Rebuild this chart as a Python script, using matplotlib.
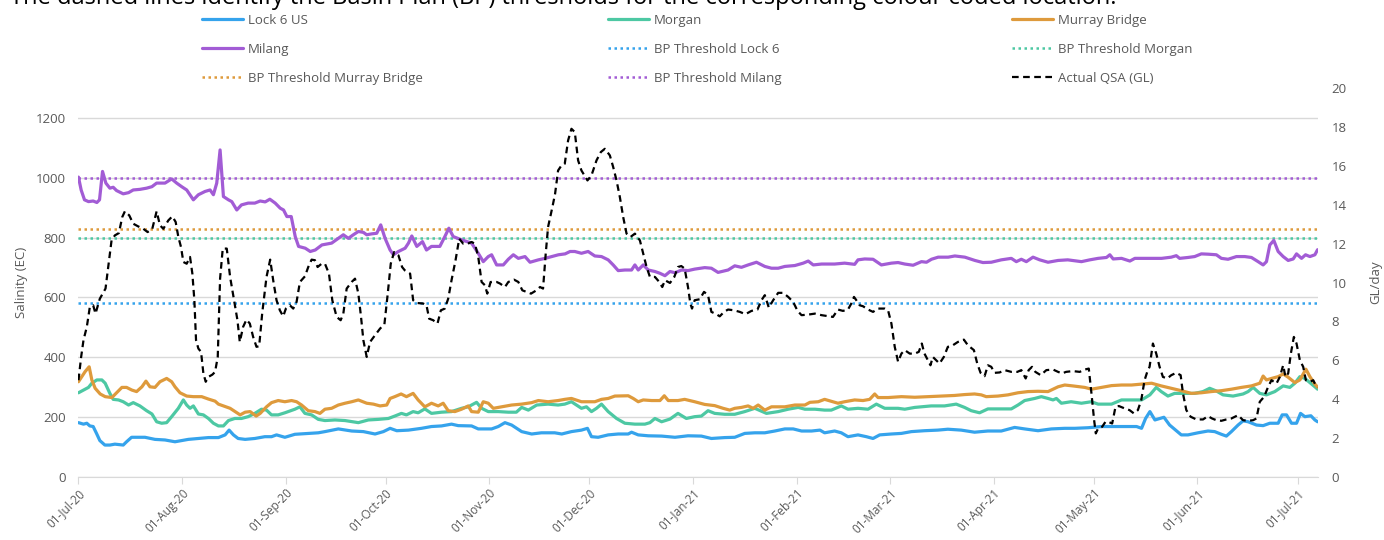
import numpy as np
import matplotlib
matplotlib.use('Agg')
import matplotlib.pyplot as plt
import matplotlib.dates as mdates

plt.rcParams['font.family'] = ['Open Sans', 'DejaVu Sans']

# day offsets from 01-Jul-2020 and values
start = mdates.datestr2num('2020-07-01')

lock6_day = [0, 1.5, 2.5, 3.4, 4.4, 5.4, 6.4, 7.9, 9.4, 10.9, 13.4, 14.4, 15.9, 17.9, 19.9, 22.9, 25.9,
             28.9, 30.9, 32.9, 35.9, 38.9, 41.9, 43.9, 45.1, 46.4, 47.8, 49.9, 52.8, 55.8, 57.8, 59.3,
             61.8, 64.8, 68.8, 71.8, 73.8, 77.8, 81.8, 85.3, 88.8, 91.3, 93.3, 95.3, 98.8, 102.7,
             105.7, 108.7, 111.7, 113.7, 117.7, 119.7, 123.7, 125.7, 127.7, 129.7, 132.7, 135.7,
             138.6, 142.6, 144.7, 147.6, 150.6, 152.4, 153.6, 155.6, 158.6, 161.6, 164.6, 165.6,
             167.6, 170.6, 174.6, 178.6, 182.5, 186.5, 189.5, 193.5, 196.5, 199.5, 202.5, 205.5,
             208.5, 211.5, 214, 216.5, 219.5, 222, 223.4, 226.4, 228.4, 230.4, 233.4, 235.9, 237.9,
             239.9, 243.4, 246.4, 249.4, 253.3, 257.3, 260.3, 264.3, 268.3, 272.3, 276.3, 280.3,
             283.3, 287.3, 291.3, 295.3, 298.3, 302.3, 306.3, 310.3, 314.3, 316.8, 318.3, 319.5,
             320.8, 322.3, 323.8, 325, 326.7, 328.2, 330.2, 332.2, 335.2, 338.2, 340.2, 342.2,
             343.7, 345.2, 347.2, 348.7, 350.2, 352.7, 354.7, 356.7, 359.2, 360.4, 361.7, 363.2,
             364.7, 365.9, 367.2, 369, 370.2, 371]
lock6_ec = [181, 176, 179, 170, 168, 145, 121, 106, 106, 109, 106, 117, 132, 132, 132, 125, 123,
            117, 121, 125, 128, 131, 131, 140, 156, 140, 128, 125, 128, 134, 134, 140,
            132, 142, 145, 147, 151, 160, 153, 151, 143, 151, 162, 154, 156, 162,
            168, 170, 176, 171, 170, 160, 160, 168, 181, 173, 151, 143,
            147, 147, 143, 151, 156, 162, 134, 132, 140, 143, 143, 149,
            140, 137, 136, 132, 137, 136, 128, 131, 132, 145, 147, 147,
            153, 160, 160, 153, 153, 156, 147, 153, 147, 134, 140, 134, 128,
            140, 143, 145, 151, 154, 156, 159, 156, 149, 153, 153, 165,
            160, 154, 160, 162, 162, 164, 168, 168, 168, 168, 162, 195,
            218, 190, 195, 199, 173, 159, 140, 140, 147, 153, 151, 142,
            136, 151, 173, 187, 184, 173, 171, 179, 179, 207, 207, 179,
            179, 212, 201, 204, 190, 184]

morgan_day = [0, 1.5, 3, 4, 5.5, 7, 8, 9.4, 10.4, 12, 13.4, 15, 16.4, 18.4, 20.4, 22, 23.4, 24.9,
              26.4, 27.9, 29.9, 31.4, 32.4, 33.4, 34.4, 35.9, 37.4, 38.9, 40.4, 41.9, 43.4, 44.9,
              46.8, 48.8, 50.8, 52.8, 54.8, 56.3, 57.8, 59.8, 61.8, 64.8, 66.3, 67.8, 69.8, 71.8,
              73.8, 76.8, 79.8, 83.8, 86.8, 89.8, 92.8, 94.7, 96.7, 98.2, 100.2, 101.7, 103.7,
              105.7, 108.7, 111.7, 114.7, 116.7, 119.2, 120.7, 122.7, 125.7, 128.7, 131.1, 132.7,
              134.7, 137.2, 140.6, 143.6, 145.6, 147.6, 150.6, 152.1, 153.6, 155.1, 156.6, 158.6,
              161.1, 163.6, 166.6, 169.6, 171.1, 172.6, 174.6, 177.1, 179.5, 182, 184.5, 186.5,
              188.5, 190.5, 193.5, 196.5, 199.5, 202.5, 206, 209.5, 212.5, 215.5, 217.5, 220.5,
              223.4, 225.4, 228.4, 230.4, 233.4, 236.4, 238.9, 241.4, 245.4, 247.4, 250.4, 255.3,
              259.3, 262.8, 265.3, 267.3, 269.8, 272.3, 275.3, 279.3, 281.3, 283.3, 286.3, 288.3,
              290.3, 291.8, 292.8, 294.3, 297.2, 300.3, 303.3, 305.3, 309.3, 312.3, 316.3, 318.3,
              320.8, 322.7, 324.2, 326.2, 328.2, 331.2, 334.2, 336.7, 338.7, 340.7, 342.7, 345.7,
              348.7, 350.2, 351.7, 353.7, 355.7, 358.2, 360.7, 362.7, 364.2, 365.7, 367.2, 368.7,
              370.2, 371]
morgan_ec = [281, 290, 299, 313, 324, 324, 313, 279, 259, 257, 251, 240, 248, 237, 221, 210, 184, 179,
             181, 201, 229, 257, 240, 229, 237, 210, 207, 195, 179, 170, 170, 188,
             195, 195, 201, 212, 226, 223, 207, 207, 214, 226, 234, 212, 207, 192,
             188, 190, 188, 181, 190, 192, 195, 203, 212, 207, 218, 214, 227,
             212, 216, 218, 229, 234, 249, 229, 218, 218, 216, 216, 232,
             223, 240, 243, 240, 243, 251, 229, 234, 218, 229, 243, 218,
             195, 179, 176, 176, 181, 195, 184, 193, 212, 195, 201, 203,
             221, 212, 209, 209, 218, 229, 212, 218, 226, 232, 226, 226,
             223, 223, 237, 226, 229, 226, 243, 229, 229, 226, 232, 237,
             237, 243, 232, 221, 214, 227, 227, 227, 240, 255, 262, 268,
             262, 257, 262, 246, 251, 246, 251, 243, 243, 257, 257, 257,
             274, 299, 285, 270, 279, 279, 279, 285, 296, 287, 274, 270,
             277, 285, 299, 279, 274, 285, 304, 299, 313, 335, 329, 315,
             301, 293]

murray_day = [0, 1, 2, 3.2, 4, 5, 6.5, 8, 10, 11.4, 13, 14.4, 16, 17.4, 19, 20.2, 21.4, 22.9, 24.4,
              26.4, 27.9, 28.9, 30.4, 32.4, 34.4, 36.9, 38.9, 40.9, 41.9, 43.4, 45.4, 46.9, 48.4,
              49.9, 51.4, 53.2, 54.4, 56.3, 57.8, 59.8, 61.8, 63.8, 65.3, 66.8, 68.8, 70.8, 72.3,
              73.8, 75.8, 77.8, 79.8, 81.8, 83.8, 86.3, 88.3, 90.3, 92.3, 93.3, 94.7, 96.6, 98.2,
              100.2, 101.7, 103.7, 105.7, 107.7, 109.2, 110.7, 112.7, 114.7, 116.7, 117.7, 119.7,
              121.2, 122.7, 124.2, 126.7, 129.7, 132.7, 135.7, 137.7, 140.6, 143.6, 145.6, 147.6,
              150.6, 154.6, 156.6, 158.6, 160.6, 164.6, 166.1, 167.6, 169.1, 171.6, 174.1, 175.4,
              176.6, 179.5, 181.5, 184.5, 187.5, 190.5, 193, 195, 196.5, 198.5, 200.5, 202, 203.5,
              205.5, 207.5, 211.5, 214.5, 217.5, 219, 221.5, 223.4, 225.9, 227.4, 229.4, 232.4,
              234.9, 236.9, 238.4, 239.4, 242.4, 246.4, 250.4, 254.3, 258.3, 262.3, 265.3, 268.3,
              270.3, 271.8, 275.3, 278.3, 281.3, 284.3, 287.3, 290.3, 293.3, 295.3, 297.7, 301.3,
              303.3, 306.3, 309.3, 312.3, 315.3, 318.3, 321.3, 324.2, 327.2, 330.2, 333.2, 336.2,
              339.2, 342.2, 345.2, 348.2, 351.2, 353.7, 354.7, 355.7, 357.2, 359.2, 360.7, 362.2,
              364.2, 365.7, 367.5, 368.7, 370.2, 371]
murray_ec = [318, 335, 352, 368, 324, 296, 277, 268, 265, 281, 299, 299, 290, 285, 301, 320, 301, 299, 318,
             329, 318, 301, 281, 270, 268, 268, 260, 253, 243, 237, 229, 218, 207,
             216, 218, 203, 212, 234, 248, 255, 251, 255, 251, 240, 221, 218, 212,
             226, 229, 240, 246, 251, 257, 246, 243, 237, 240, 262, 268, 277, 268,
             279, 257, 234, 246, 237, 246, 221, 218, 226, 237, 218, 216,
             251, 246, 229, 234, 240, 243, 248, 255, 251, 255, 259, 262,
             251, 251, 259, 262, 270, 271, 262, 251, 257, 255, 255, 271,
             255, 255, 259, 251, 242, 238, 229, 223, 229, 232, 237, 229, 240,
             223, 234, 234, 240, 240, 249, 251, 259, 251, 246, 251, 257,
             255, 259, 277, 265, 265, 268, 266, 268, 270, 272, 275, 277,
             274, 268, 270, 274, 281, 285, 286, 285, 301, 307, 304, 299,
             293, 299, 305, 307, 307, 310, 313, 304, 296, 288, 279, 281,
             285, 288, 293, 299, 304, 313, 337, 324, 329, 335, 344, 333,
             315, 324, 360, 335, 310, 300]

milang_day = [0, 0.8, 1.8, 3, 4.4, 5.5, 6.3, 7.2, 8.2, 9.4, 10.4, 11.4, 13.4, 15, 16.4, 18.4, 20.4, 22,
              23.4, 25.9, 27.9, 29.4, 30.9, 32.4, 34.4, 35.9, 37.9, 39.4, 40.4, 41.4, 42.4, 43.4, 44.9,
              45.9, 47.4, 48.8, 50.8, 52.8, 54.4, 55.9, 57.3, 58.9, 60.4, 61.4, 62.4, 63.7, 64.9, 65.9,
              67.9, 69.4, 70.9, 72.9, 75.8, 77.8, 79.3, 80.8, 82.3, 83.8, 85.3, 86.3, 87.8, 89.3, 90.5,
              91.8, 93.3, 94.3, 95.8, 97.8, 98.8, 99.8, 101.3, 103, 104.2, 105.7, 108.2, 109.7, 110.9,
              112.2, 114.7, 117.7, 119.7, 121.2, 122.7, 123.7, 125.2, 127.2, 128.7, 130.2, 131.7, 133.7,
              135.2, 137.7, 139.7, 141.7, 143.7, 145.7, 147.2, 148.6, 150.6, 152.6, 154.6, 156.6, 158.6,
              160.1, 161.6, 163.6, 165.6, 166.6, 167.6, 169.1, 170.6, 172.6, 174.1, 175.6, 177.1, 178.6,
              180.6, 182.5, 184.5, 187.5, 189.5, 191.5, 194.5, 196.5, 198.5, 200.5, 203, 205.5, 207.5,
              209.5, 211.5, 214.5, 217, 218.5, 220, 222.5, 226.4, 229.4, 232.4, 233.4, 235.4, 237.9,
              240.4, 243.4, 245.4, 247.4, 249.9, 252.4, 253.9, 255.4, 257.4, 260.4, 262.4, 265.4, 268.4,
              270.8, 273.3, 276.3, 279.3, 280.8, 282.3, 283.8, 285.8, 287.8, 290.3, 293.3, 296.2, 300.3,
              302.8, 305.3, 307.8, 308.8, 309.8, 312.3, 314.8, 316.3, 320.3, 324.3, 327.2, 328.7, 329.7,
              332.2, 334.2, 336.2, 338.2, 340.7, 342.2, 344.2, 346.7, 349.2, 351.2, 353.2, 354.7, 355.7,
              356.7, 357.9, 359.2, 360.7, 362.2, 363.7, 364.7, 366.2, 367.4, 368.7, 370.2, 371]
milang_ec = [1003, 960, 927, 921, 923, 918, 927, 1022, 983, 966, 969, 958, 947, 951, 960, 962, 966, 971,
             983, 983, 997, 983, 971, 960, 927, 944, 955, 960, 944, 983, 1094, 938, 927,
             921, 893, 910, 916, 916, 923, 920, 929, 916, 899, 893, 871, 871, 804, 771,
             765, 754, 759, 776, 782, 798, 810, 798, 810, 821, 818, 810, 813, 815, 843,
             798, 759, 743, 754, 765, 782, 806, 771, 787, 759, 771, 771, 804, 832,
             804, 793, 782, 748, 720, 737, 743, 709, 709, 728, 743, 731, 737,
             718, 726, 731, 737, 743, 746, 754, 754, 748, 754, 739, 737, 726,
             709, 690, 692, 692, 709, 692, 709, 692, 687, 681, 673, 687, 683,
             692, 690, 695, 700, 698, 684, 692, 706, 701, 709, 718, 704, 698,
             698, 704, 707, 715, 722, 709, 712, 712, 715, 711, 726, 729, 728,
             709, 715, 717, 712, 708, 720, 718, 728, 735, 735, 739, 735, 724,
             717, 718, 726, 731, 720, 728, 720, 735, 726, 718, 724, 726, 720,
             726, 731, 734, 743, 729, 731, 722, 731, 731, 731, 735, 740, 731,
             734, 737, 746, 745, 743, 731, 728, 737, 737, 734, 720, 709, 720,
             776, 791, 754, 737, 724, 729, 746, 731, 743, 737, 743, 760]

qsa_day = [0, 0.8, 1.5, 2.5, 3.4, 4.4, 5.1, 6.4, 8.1, 8.9, 9.9, 10.9, 12.1, 13.1, 13.9, 15.2, 16.4, 17.9,
           19.4, 20.7, 22.1, 23.4, 24.4, 25.4, 26.9, 28.1, 29.1, 29.9, 30.7, 31.4, 32.4, 33.4, 34.1,
           34.7, 35.2, 35.9, 36.7, 37.4, 38.1, 38.9, 40.1, 40.9, 41.7, 42.4, 43.2, 44.4, 45.4, 46.6,
           47.6, 48.3, 49.3, 50.3, 51.3, 52.3, 53.3, 54.1, 55, 56.3, 57.4, 58.3, 59.3, 60.3, 61.3,
           62.1, 63.3, 64.3, 65.3, 66.3, 67.8, 68.8, 69.8, 70.8, 71.6, 72.8, 73.8, 75, 76, 77.3, 78.5,
           79.3, 80.3, 81.8, 82.8, 83.8, 84.6, 85.3, 86.3, 87.3, 88.8, 90.3, 91.6, 92.6, 93.5, 94.5,
           95.8, 96.9, 97.7, 99.3, 100.2, 101.2, 103.2, 104.2, 105, 106.2, 107.5, 108.5, 109.7, 110.7,
           111.7, 112.9, 114, 115.2, 116.5, 117.7, 118.7, 119.7, 120.7, 121.7, 122.4, 123.4, 125.2,
           126.2, 127.7, 128.7, 130.4, 131.7, 132.9, 134.1, 135.5, 137.1, 138.2, 139.1, 139.9, 140.6,
           141.9, 142.7, 143.6, 144.6, 145.6, 146.6, 147.6, 148.6, 149.6, 150.6, 152.4, 153.6, 155.1,
           156.4, 157.6, 159.1, 160.1, 161.1, 162.1, 163.1, 164.1, 165.3, 166.6, 168.1, 169.1, 170.1,
           171.1, 172.6, 173.9, 174.8, 175.6, 177.1, 178.4, 179.5, 180.5, 181.5, 182.5, 183.2, 183.7,
           184.5, 186, 187.3, 188.5, 189.5, 191, 192, 193.3, 194.5, 196.3, 198, 199.7, 201.5, 203.3,
           204.5, 205.5, 206.7, 208, 209.5, 211, 212.5, 214, 215.3, 216.5, 218.5, 220.5, 222.5, 225.9,
           227.4, 228.9, 230.4, 231.4, 232.2, 232.9, 233.9, 234.9, 236.4, 237.9, 239.4, 241.4, 242.4,
           243.4, 244.4, 245.4, 246.4, 247.4, 248.9, 250.4, 251.6, 252.5, 253.3, 254.3, 255.1, 255.8,
           256.8, 257.8, 259.1, 260.3, 261.8, 263.3, 265.1, 266.3, 268.1, 269.1, 270.1, 271.3, 272.3,
           273.3, 274.3, 275.8, 277.3, 279.3, 281.1, 282.3, 283.6, 284.5, 285.5, 286.5, 288.1, 289.8,
           291.8, 293.3, 294.5, 295.7, 297.7, 299.8, 301.3, 302.5, 303.3, 304.1, 304.6, 305.3, 306.5,
           307.5, 308.3, 309.5, 310.5, 311.5, 313.2, 314.7, 316, 317.2, 318.2, 319.2, 320, 320.7,
           321.7, 322.7, 323.7, 324.7, 326, 327.2, 328.7, 330, 330.7, 331.7, 333, 334.7, 336.7, 338.2,
           339.4, 340.7, 342.2, 343.7, 345.2, 347.2, 348.7, 350.2, 351.7, 352.7, 353.7, 355, 356.2,
           357.2, 358.7, 359.7, 360.7, 361.4, 362.2, 363, 363.9, 364.7, 365.7, 366.7, 367.5, 368.7,
           369.7, 370.4, 371]
qsa_gl = [4.97, 6.17, 7.03, 7.72, 8.74, 8.83, 8.40, 9.17, 9.69, 10.8, 12.17, 12.43, 12.55, 13.37, 13.67,
          13.46, 13.03, 12.89, 12.77, 12.60, 12.77, 13.67, 12.95, 12.77, 13.20, 13.41, 13.12, 12.35,
          11.83, 11.06, 10.97, 11.32, 10.46, 9.09, 7.03, 6.60, 6.43, 5.32, 4.89, 5.14, 5.26, 5.40,
          6.17, 10.2, 11.75, 11.75, 10.29, 9.09, 8.06, 6.94, 7.72, 8.09, 7.89, 7.20, 6.69, 6.72, 8.40,
          10.29, 11.18, 10.12, 9.09, 8.57, 8.26, 8.66, 8.83, 8.66, 9.00, 10.03, 10.32, 10.80, 11.18,
          11.15, 10.80, 10.97, 10.97, 10.46, 9.09, 8.23, 8.06, 8.40, 9.69, 10.03, 10.2, 9.43, 8.23,
          7.03, 6.17, 6.94, 7.29, 7.63, 7.85, 9.43, 10.97, 11.57, 11.40, 10.80, 10.63, 10.46, 9.09,
          8.95, 8.92, 8.83, 8.14, 8.06, 7.89, 8.57, 8.66, 9.17, 10.12, 11.15, 12.26, 12.00, 12.00,
          12.09, 12.00, 11.32, 10.03, 9.86, 9.43, 10.03, 10.03, 9.95, 9.77, 10.03, 10.15, 10.03, 9.60,
          9.52, 9.43, 9.60, 9.77, 9.69, 11.49, 12.86, 13.89, 14.57, 15.77, 16.03, 16.12, 17.32, 17.92,
          17.75, 16.29, 15.77, 15.26, 15.52, 16.29, 16.72, 16.89, 16.55, 15.95, 15.26, 14.40, 13.37,
          12.52, 12.35, 12.52, 12.17, 11.49, 10.80, 10.29, 10.29, 10.03, 9.77, 10.12, 9.98, 10.29,
          10.80, 10.85, 10.72, 9.77, 8.92, 8.66, 9.09, 9.14, 9.52, 9.35, 8.49, 8.37, 8.26, 8.49, 8.61,
          8.57, 8.49, 8.37, 8.54, 8.61, 9.09, 9.35, 8.71, 9.09, 9.47, 9.47, 9.26, 9.00, 8.54, 8.32,
          8.35, 8.40, 8.32, 8.23, 8.61, 8.54, 8.61, 8.92, 9.26, 9.09, 8.83, 8.78, 8.61, 8.49, 8.66,
          8.66, 8.57, 7.89, 6.69, 5.92, 6.34, 6.52, 6.34, 6.34, 6.43, 6.86, 6.34, 6.00, 5.74, 6.17,
          6.00, 5.83, 6.17, 6.69, 6.77, 6.94, 7.06, 6.77, 6.52, 5.83, 5.35, 5.18, 5.74, 5.66, 5.35,
          5.37, 5.49, 5.40, 5.40, 5.49, 5.06, 5.49, 5.66, 5.40, 5.23, 5.49, 5.52, 5.40, 5.32, 5.40,
          5.44, 5.40, 5.52, 5.57, 4.29, 2.91, 2.23, 2.49, 2.57, 2.83, 2.83, 2.74, 3.60, 3.64, 3.52,
          3.43, 3.26, 3.43, 3.94, 4.97, 5.40, 5.66, 6.86, 6.34, 5.66, 5.14, 5.06, 5.23, 5.35, 5.23,
          4.29, 3.43, 3.09, 2.95, 2.95, 3.12, 3.00, 2.91, 2.88, 2.95, 3.00, 3.17, 2.91, 2.88, 2.91,
          3.00, 3.86, 4.12, 4.63, 4.97, 4.80, 5.14, 5.74, 5.14, 5.32, 6.34, 7.20, 6.86, 6.00, 5.66,
          4.97, 4.89, 4.97, 4.72, 4.60]

# Basin Plan thresholds (EC)
thresholds = {'Lock 6': 580, 'Morgan': 800, 'Murray Bridge': 830, 'Milang': 1000}

c_lock6 = '#35A3EC'
c_morgan = '#4DC8A3'
c_murray = '#DE9A3C'
c_milang = '#A25CD5'
grey = '#595959'
light = '#D9D9D9'

fig = plt.figure(figsize=(13.84, 5.40), dpi=100)
ax = fig.add_axes([0.0567, 0.1172, 0.8953, 0.7191])
ax2 = ax.twinx()

dot = (0, (1, 1.4))
t_lock6 = ax.axhline(thresholds['Lock 6'], color=c_lock6, lw=1.8, ls=dot, label='BP Threshold Lock 6')
t_morgan = ax.axhline(thresholds['Morgan'], color=c_morgan, lw=1.8, ls=dot, label='BP Threshold Morgan')
t_murray = ax.axhline(thresholds['Murray Bridge'], color=c_murray, lw=1.8, ls=dot,
                      label='BP Threshold Murray Bridge')
t_milang = ax.axhline(thresholds['Milang'], color=c_milang, lw=1.8, ls=dot, label='BP Threshold Milang')

kw = dict(lw=2.3, solid_joinstyle='round', solid_capstyle='round')
l_lock6, = ax.plot(start + np.array(lock6_day), lock6_ec, color=c_lock6, label='Lock 6 US', **kw)
l_morgan, = ax.plot(start + np.array(morgan_day), morgan_ec, color=c_morgan, label='Morgan', **kw)
l_murray, = ax.plot(start + np.array(murray_day), murray_ec, color=c_murray, label='Murray Bridge', **kw)
l_milang, = ax.plot(start + np.array(milang_day), milang_ec, color=c_milang, label='Milang', **kw)
l_qsa, = ax2.plot(start + np.array(qsa_day), qsa_gl, color='black', lw=1.6, ls=(0, (3, 2)),
                  label='Actual QSA (GL)')

ax.set_xlim(start, start + 371)
ax.set_ylim(0, 1300)
ax.set_yticks(range(0, 1201, 200))
ax2.set_ylim(0, 20)
ax2.set_yticks(range(0, 21, 2))

ax.xaxis.set_major_locator(mdates.MonthLocator())
ax.xaxis.set_major_formatter(mdates.DateFormatter('%d-%b-%y'))
ax.tick_params(axis='x', length=5, color=light, labelcolor=grey, labelsize=8.5, pad=2,
               labelrotation=45)
plt.setp(ax.get_xticklabels(), ha='right', rotation_mode='anchor')
ax.tick_params(axis='y', length=0, pad=9, labelcolor=grey, labelsize=9.5)
ax2.tick_params(axis='y', length=0, pad=10, labelcolor=grey, labelsize=9.5)

ax.grid(axis='y', color=light, lw=1)
ax.set_axisbelow(True)
for s in ['top', 'left', 'right']:
    ax.spines[s].set_visible(False)
for s in ax2.spines.values():
    s.set_visible(False)
ax.spines['bottom'].set_color(light)

ax.set_ylabel('Salinity (EC)', color=grey, fontsize=9.5)
ax.yaxis.set_label_coords(-0.041, 0.5)
ax2.set_ylabel('GL/day', color=grey, fontsize=9.5)
ax2.yaxis.set_label_coords(1.042, 0.5)

columns = [([l_lock6, l_milang, t_murray], 202),
           ([l_morgan, t_lock6, t_milang], 608),
           ([l_murray, t_morgan, l_qsa], 1012)]
for handles, x in columns:
    leg = fig.legend(handles=handles, loc='upper left', bbox_to_anchor=(x / 1384, 1 - 14 / 540),
                     frameon=False, borderpad=0, borderaxespad=0, handlelength=3.1,
                     handletextpad=0.35, labelspacing=1.2, fontsize=9.5)
    for t in leg.get_texts():
        t.set_color(grey)

fig.text(10 / 1384, 1 - 4 / 540,
         'The dashed lines identify the Basin Plan (BP) thresholds for the corresponding colour coded location.',
         fontsize=17, va='baseline', ha='left', color='black')

fig.savefig('out.png', dpi=100)
